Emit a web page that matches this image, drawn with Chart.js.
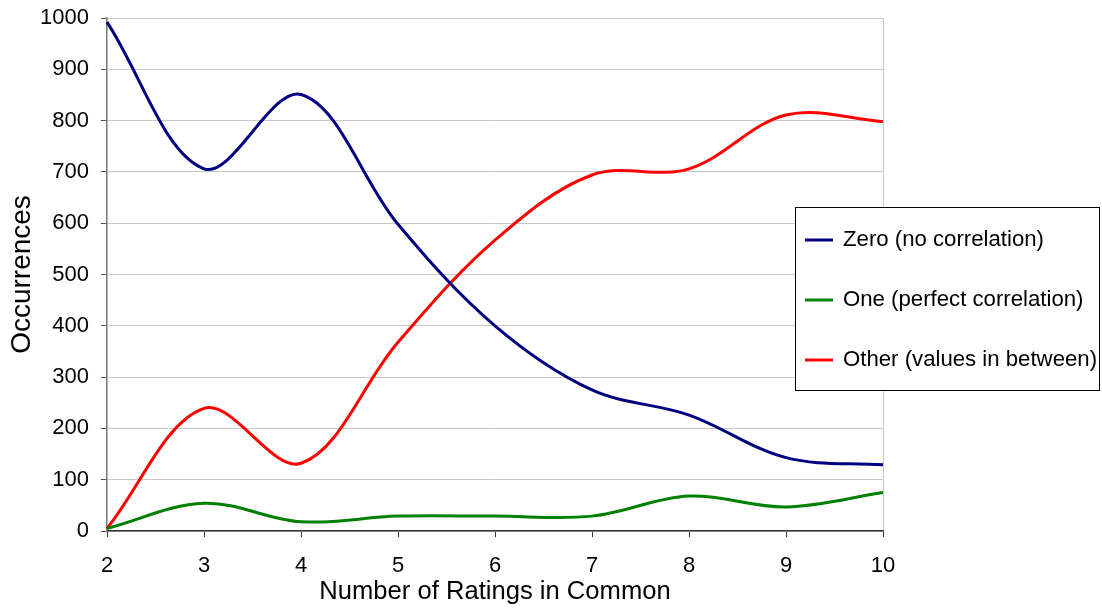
<!DOCTYPE html>
<html>
<head>
<meta charset="utf-8">
<script src="https://cdn.jsdelivr.net/npm/chart.js@4.4.0/dist/chart.umd.min.js"></script>
<style>
  html, body { margin: 0; padding: 0; background: #fff; }
  #wrap { width: 1102px; height: 608px; }
</style>
</head>
<body>
<div id="wrap"><canvas id="chart" width="1102" height="608"></canvas></div>
<script>
// values
const ratings = ['2', '3', '4', '5', '6', '7', '8', '9', '10'];
const zeroCorr = [992, 706, 851, 598, 400, 275, 226, 143, 129];
const oneCorr = [5, 54, 18, 29, 29, 29, 68, 47, 75];
const otherCorr = [5, 239, 132, 368, 567, 694, 706, 811, 798];
const yTicks = [0, 100, 200, 300, 400, 500, 600, 700, 800, 900, 1000];

const FONT = 'Arial, "Liberation Sans", sans-serif';

// legend box drawn over the plot, like the original
const boxLegend = {
    id: 'boxLegend',
    afterDraw(chart) {
        const ctx = chart.ctx;
        const x0 = 795.5, y0 = 207.5, w = 304, h = 183;
        ctx.save();
        ctx.fillStyle = '#fff';
        ctx.fillRect(x0, y0, w, h);
        ctx.strokeStyle = '#000';
        ctx.lineWidth = 1;
        ctx.strokeRect(x0, y0, w, h);
        ctx.font = '22.2px ' + FONT;
        ctx.textBaseline = 'middle';
        chart.data.datasets.forEach((ds, i) => {
            const y = 240 + i * 60;
            ctx.strokeStyle = ds.borderColor;
            ctx.lineWidth = 3;
            ctx.beginPath();
            ctx.moveTo(805, y);
            ctx.lineTo(833, y);
            ctx.stroke();
            ctx.fillStyle = '#000';
            ctx.fillText(ds.label, 843, y);
        });
        ctx.restore();
    }
};

new Chart(document.getElementById('chart'), {
    type: 'line',
    data: {
        labels: ratings,
        datasets: [
            { label: 'Zero (no correlation)', data: zeroCorr, borderColor: '#000080' },
            { label: 'One (perfect correlation)', data: oneCorr, borderColor: '#008000' },
            { label: 'Other (values in between)', data: otherCorr, borderColor: '#ff0000' }
        ]
    },
    options: {
        responsive: false,
        animation: false,
        layout: { padding: { top: 18, right: 219, left: 0, bottom: 0 } },
        elements: {
            line: { borderWidth: 3, tension: 0.35, fill: false },
            point: { radius: 0 }
        },
        plugins: {
            legend: { display: false },
            tooltip: { enabled: false }
        },
        scales: {
            x: {
                afterFit(scale) { scale.height = 77; },
                grid: {
                    color: c => (c.index === ratings.length - 1 ? '#c8c8c8' : 'rgba(0,0,0,0)'),
                    tickColor: '#333',
                    tickLength: 6
                },
                border: { color: '#333', width: 1.5 },
                ticks: { color: '#000', font: { family: FONT, size: 22 }, padding: 16, maxRotation: 0 },
                title: {
                    display: true,
                    text: 'Number of Ratings in Common',
                    color: '#000',
                    font: { family: FONT, size: 25.6 },
                    padding: { top: 0, bottom: 1 }
                }
            },
            y: {
                min: 0,
                max: 1000,
                afterFit(scale) {
                    scale.width = 107;
                    scale.paddingTop = 0;
                    scale.paddingBottom = 0;
                },
                afterBuildTicks(scale) { scale.ticks = yTicks.map(v => ({ value: v })); },
                grid: { color: '#c8c8c8', tickColor: '#555', tickLength: 6 },
                border: { color: '#777', width: 1.5 },
                ticks: {
                    color: '#000',
                    font: { family: FONT, size: 22 },
                    padding: 12,
                    callback: v => String(v)
                },
                title: {
                    display: true,
                    text: 'Occurrences',
                    color: '#000',
                    font: { family: FONT, size: 28 },
                    padding: { top: 5, bottom: 0 }
                }
            }
        }
    },
    plugins: [boxLegend]
});
</script>
</body>
</html>
